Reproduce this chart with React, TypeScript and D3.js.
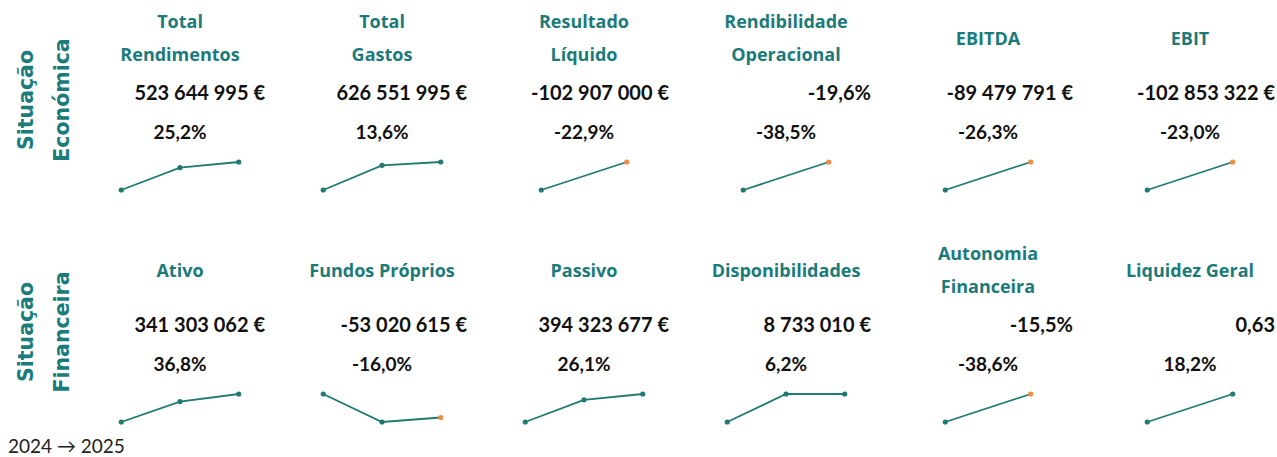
import { scaleBand, scalePoint, scaleLinear, extent, line as d3Line } from "d3";

const W = 1277;
const H = 457;

// row labels (rotated, two lines each)
const rowLabels = [
  ["Situação", "Económica"],
  ["Situação", "Financeira"],
];

// one entry per card, 6 per row
const titles = [
  ["Total", "Rendimentos"],
  ["Total", "Gastos"],
  ["Resultado", "Líquido"],
  ["Rendibilidade", "Operacional"],
  ["EBITDA"],
  ["EBIT"],
  ["Ativo"],
  ["Fundos Próprios"],
  ["Passivo"],
  ["Disponibilidades"],
  ["Autonomia", "Financeira"],
  ["Liquidez Geral"],
];

const valueLabels = [
  "523 644 995 €",
  "626 551 995 €",
  "-102 907 000 €",
  "-19,6%",
  "-89 479 791 €",
  "-102 853 322 €",
  "341 303 062 €",
  "-53 020 615 €",
  "394 323 677 €",
  "8 733 010 €",
  "-15,5%",
  "0,63",
];

const changeLabels = [
  "25,2%",
  "13,6%",
  "-22,9%",
  "-38,5%",
  "-26,3%",
  "-23,0%",
  "36,8%",
  "-16,0%",
  "26,1%",
  "6,2%",
  "-38,6%",
  "18,2%",
];

// sparkline values (M€ for amounts, % for ratios), oldest first
const series = [
  [0, 418.2, 523.6],
  [0, 551.5, 626.6],
  [-133.5, -102.9],
  [-31.9, -19.6],
  [-121.4, -89.5],
  [-133.6, -102.9],
  [0, 249.5, 341.3],
  [0, -63.1, -53.0],
  [0, 312.7, 394.3],
  [0, 8.7, 8.7],
  [-25.2, -15.5],
  [0.53, 0.63],
];

const footnote = "2024 → 2025";

const TEAL = "#1b7b7b";
const LINE = "#1f7a72";
const ORANGE = "#f28a44";
const INK = "#111111";

const titleFont = "'Open Sans', sans-serif";
const valueFont = "Lato, sans-serif";
const rowFont = "'DejaVu Sans', sans-serif";

function Card({ i, cx, base }: { i: number; cx: number; base: number }) {
  const vals = series[i];
  const x = scalePoint<number>()
    .domain(vals.map((_, k) => k))
    .range([cx - 94, cx + 94])
    .padding(0.6);
  const [lo, hi] = extent(vals) as [number, number];
  const y = scaleLinear().domain([lo, hi]).range([base + 190, base + 162]);
  const line = d3Line<number>()
    .x((_, k) => x(k)!)
    .y((d) => y(d));
  const t = titles[i];
  const titleYs = t.length === 2 ? [base + 22, base + 55] : [base + 39];
  return (
    <g>
      {t.map((s, k) => (
        <text
          key={k}
          x={cx}
          y={titleYs[k]}
          dy="0.35em"
          textAnchor="middle"
          fill={TEAL}
          fontFamily={titleFont}
          fontWeight={700}
          fontSize={18}
        >
          {s}
        </text>
      ))}
      <text
        x={cx + 85}
        y={base + 93}
        dy="0.35em"
        textAnchor="end"
        fill={INK}
        fontFamily={valueFont}
        fontWeight={700}
        fontSize={20}
      >
        {valueLabels[i]}
      </text>
      <text
        x={cx}
        y={base + 132}
        dy="0.35em"
        textAnchor="middle"
        fill={INK}
        fontFamily={valueFont}
        fontWeight={700}
        fontSize={19}
      >
        {changeLabels[i]}
      </text>
      <path d={line(vals)!} fill="none" stroke={LINE} strokeWidth={1.8} />
      {vals.map((v, k) => (
        <circle
          key={k}
          cx={x(k)}
          cy={y(v)}
          r={2.6}
          fill={k === vals.length - 1 && v < 0 ? ORANGE : LINE}
        />
      ))}
    </g>
  );
}

export default function App() {
  const col = scaleBand<number>()
    .domain([0, 1, 2, 3, 4, 5])
    .range([79, 1291]);
  const rowBase = [0, 232];
  return (
    <svg
      width={W}
      height={H}
      style={{ position: "absolute", left: 0, top: 0, background: "#fff" }}
    >
      {rowLabels.map((lines, r) => {
        const cy = rowBase[r] + 100;
        return lines.map((s, k) => (
          <text
            key={r + "-" + k}
            transform={`translate(${26 + k * 36},${cy}) rotate(-90)`}
            dy="0.35em"
            textAnchor="middle"
            fill={TEAL}
            fontFamily={rowFont}
            fontWeight={700}
            fontSize={20.5}
          >
            {s}
          </text>
        ));
      })}
      {titles.map((_, i) => {
        const r = Math.floor(i / 6);
        const c = i % 6;
        const cx = col(c)! + col.bandwidth() / 2;
        return <Card key={i} i={i} cx={cx} base={rowBase[r]} />;
      })}
      <text x={8} y={453} fill="#222" fontFamily={valueFont} fontSize={19}>
        {footnote}
      </text>
    </svg>
  );
}
